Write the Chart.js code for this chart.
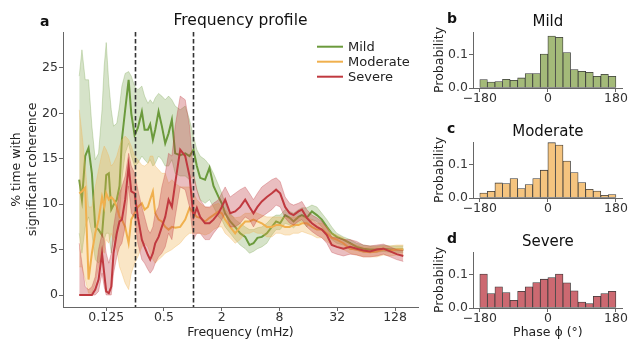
<!DOCTYPE html>
<html>
<head>
<meta charset="utf-8">
<script src="https://cdn.jsdelivr.net/npm/chart.js"></script>
<style>
  html, body { margin: 0; padding: 0; background: #fff; }
  #wrap { position: relative; width: 628px; height: 343px; overflow: hidden; }
  canvas { position: absolute; }
</style>
</head>
<body>
<div id="wrap">
  <canvas id="freqChart" width="428" height="343" style="left:0;top:0"></canvas>
  <canvas id="histMild" width="200" height="110" style="left:428px;top:0"></canvas>
  <canvas id="histModerate" width="200" height="110" style="left:428px;top:110px"></canvas>
  <canvas id="histSevere" width="200" height="123" style="left:428px;top:220px"></canvas>
</div>
<script>
// frequency profile (panel a)
const freqs = [0.0654, 0.0698, 0.0755, 0.0818, 0.0886, 0.096, 0.104, 0.113, 0.119, 0.125,
  0.133, 0.141, 0.149, 0.161, 0.172, 0.182, 0.197, 0.214, 0.228, 0.247,
  0.267, 0.294, 0.314, 0.34, 0.359, 0.383, 0.405, 0.439, 0.475, 0.515,
  0.558, 0.604, 0.654, 0.738, 0.832, 0.923, 1.015, 1.1, 1.19, 1.34,
  1.49, 1.64, 1.85, 2.0, 2.17, 2.45, 2.76, 3.11, 3.51, 3.89,
  4.28, 4.71, 5.23, 5.9, 6.65, 7.37, 8.12, 9.15, 10.2, 11.2,
  12.6, 13.7, 15.4, 17.4, 19.6, 22.1, 24.9, 28.0, 31.6, 37.1,
  43.5, 51.0, 59.9, 70.3, 82.5, 96.8, 114, 133, 156];

const mildMean = [12.7, 10.5, 15.3, 16.2, 13.4, 7.5, 7.2, 6.6, 9.7, 13.2,
  13.4, 9.4, 9.9, 10.5, 12.0, 17.1, 20.4, 23.7, 20.0, 17.6,
  18.4, 20.2, 18.2, 18.2, 18.8, 17.1, 18.2, 20.2, 18.6, 16.7,
  17.8, 19.3, 15.6, 15.4, 15.6, 15.3, 16.0, 14.2, 12.9, 12.7,
  14.0, 12.0, 10.8, 10.1, 9.0, 8.1, 7.5, 6.8, 6.4, 5.5,
  5.7, 6.3, 6.4, 6.8, 7.5, 8.1, 7.9, 8.8, 8.5, 8.1,
  8.6, 8.8, 8.5, 9.2, 8.8, 8.3, 7.5, 6.8, 6.4, 6.1,
  5.7, 5.3, 5.1, 5.0, 5.0, 5.1, 5.0, 5.0, 5.0];
const mildHi = [24.1, 27.0, 23.7, 23.7, 18.6, 14.9, 15.6, 20.4, 25.2, 27.8,
  23.3, 20.4, 18.6, 18.9, 20.8, 23.0, 24.4, 24.6, 24.1, 23.0,
  22.6, 23.0, 21.9, 21.1, 21.5, 21.1, 21.7, 22.2, 21.9, 21.5,
  21.9, 21.5, 20.8, 20.4, 20.8, 19.3, 17.5, 16.0, 15.3, 14.9,
  14.3, 13.4, 12.1, 11.2, 10.1, 9.0, 8.3, 7.9, 7.5, 7.2,
  7.2, 7.4, 7.5, 7.9, 8.5, 8.8, 8.8, 9.4, 9.2, 9.0,
  9.4, 9.6, 9.6, 9.9, 9.7, 9.0, 8.3, 7.5, 6.8, 6.4,
  6.1, 5.7, 5.5, 5.4, 5.4, 5.5, 5.4, 5.4, 5.4];
const mildLo = [6.8, 4.6, 7.5, 8.6, 6.8, 3.9, 3.5, 4.2, 6.1, 6.8,
  6.8, 4.6, 6.1, 6.8, 8.6, 12.7, 15.6, 16.7, 15.3, 14.2,
  14.5, 15.3, 14.9, 14.5, 14.9, 14.2, 14.5, 15.3, 14.9, 14.2,
  14.2, 14.9, 13.4, 13.1, 13.1, 12.7, 13.1, 11.6, 10.5, 10.1,
  10.5, 9.7, 8.6, 8.3, 7.5, 6.8, 6.1, 5.5, 5.1, 4.6,
  4.8, 5.1, 5.3, 5.7, 6.6, 7.2, 7.2, 7.9, 7.7, 7.4,
  7.9, 8.1, 7.5, 8.3, 8.1, 7.5, 6.8, 6.1, 5.7, 5.5,
  5.1, 4.9, 4.7, 4.7, 4.7, 4.8, 4.7, 4.7, 4.7];

const moderateMean = [11.2, 11.4, 11.8, 1.7, 4.6, 6.8, 8.3, 10.8, 9.7, 11.2,
  10.5, 10.8, 10.5, 9.7, 8.6, 8.3, 7.5, 5.7, 8.3, 9.0,
  9.7, 10.1, 9.4, 9.7, 10.5, 11.4, 9.0, 8.3, 8.1, 7.5,
  7.2, 7.5, 7.4, 7.5, 8.3, 9.6, 9.0, 8.6, 8.5, 8.1,
  8.5, 8.8, 9.2, 9.0, 8.3, 7.5, 6.8, 7.5, 8.1, 8.1,
  8.3, 8.1, 7.9, 7.5, 7.5, 7.7, 7.7, 7.5, 7.5, 7.7,
  7.7, 7.9, 7.9, 7.5, 7.2, 7.2, 6.8, 6.3, 6.1, 5.7,
  5.1, 5.0, 4.8, 4.7, 4.8, 5.0, 4.9, 5.0, 5.0];
const moderateHi = [20.4, 17.8, 14.2, 9.7, 9.7, 11.9, 13.8, 15.6, 16.4, 16.0,
  15.3, 14.2, 14.5, 15.3, 16.4, 17.1, 17.5, 17.1, 16.4, 15.3,
  14.9, 14.3, 14.2, 14.5, 15.3, 15.3, 14.2, 13.8, 13.4, 13.4,
  12.3, 12.7, 12.3, 11.9, 11.9, 11.9, 11.2, 10.5, 10.1, 9.7,
  9.6, 9.9, 10.1, 9.7, 9.4, 8.8, 8.5, 8.6, 9.0, 9.0,
  9.2, 9.0, 8.8, 8.6, 8.6, 8.6, 8.6, 8.5, 8.5, 8.6,
  8.6, 8.6, 8.6, 8.3, 7.9, 7.9, 7.5, 6.8, 6.6, 6.3,
  5.7, 5.5, 5.3, 5.3, 5.3, 5.4, 5.4, 5.5, 5.5];
const moderateLo = [3.1, 3.1, 1.7, 0.2, 0.2, 1.3, 3.1, 5.3, 4.6, 6.1,
  5.7, 6.8, 6.1, 5.0, 3.1, 2.4, 1.3, 0.6, 2.4, 3.5,
  4.2, 5.3, 5.7, 5.3, 4.6, 3.9, 3.5, 3.9, 4.2, 4.6,
  4.8, 5.0, 5.3, 5.7, 6.4, 6.8, 6.8, 6.8, 6.8, 6.6,
  6.8, 7.2, 7.5, 7.5, 6.8, 6.3, 5.7, 6.1, 6.8, 6.8,
  7.0, 6.8, 6.8, 6.4, 6.4, 6.8, 6.8, 6.6, 6.6, 6.8,
  6.8, 7.0, 6.8, 6.6, 6.3, 6.3, 5.9, 5.5, 5.3, 5.0,
  4.6, 4.4, 4.2, 4.2, 4.2, 4.4, 4.3, 4.4, 4.4];

const severeMean = [0, 0, 0, 0, 0, 0.6, 1.7, 4.6, 2.4, 0.4,
  0.2, 0.9, 4.6, 6.8, 8.1, 8.3, 10.5, 14.2, 11.4, 11.2,
  8.6, 6.1, 5.3, 4.4, 3.9, 4.6, 5.7, 6.4, 7.5, 8.6,
  10.5, 9.7, 12.3, 16.0, 15.3, 13.1, 8.6, 9.6, 8.6, 7.9,
  7.9, 8.3, 9.0, 9.7, 10.5, 9.0, 9.2, 9.7, 10.5, 9.7,
  9.0, 9.7, 10.3, 10.8, 11.2, 11.6, 11.2, 9.7, 9.0, 8.8,
  9.2, 9.4, 8.5, 7.9, 7.5, 7.2, 6.6, 5.5, 5.3, 5.1,
  5.3, 5.1, 4.9, 4.8, 5.0, 5.1, 4.8, 4.5, 4.3];
const severeHi = [5.7, 3.5, 0.9, 0.6, 0.9, 2.0, 5.0, 6.8, 6.1, 4.6,
  3.5, 4.6, 7.5, 9.7, 11.2, 11.9, 13.1, 15.6, 14.2, 13.4,
  11.6, 9.7, 8.6, 7.2, 6.8, 7.5, 9.0, 9.7, 11.9, 13.4,
  15.6, 15.3, 18.6, 21.9, 21.5, 18.6, 13.4, 11.6, 10.5, 9.7,
  9.7, 10.1, 10.5, 11.2, 11.9, 10.8, 11.2, 11.6, 11.9, 11.2,
  10.5, 11.2, 11.9, 12.3, 12.7, 12.9, 12.5, 10.8, 10.1, 9.9,
  10.1, 10.3, 9.4, 8.8, 8.5, 8.1, 7.4, 6.4, 6.3, 6.1,
  6.1, 5.9, 5.5, 5.4, 5.5, 5.6, 5.3, 5.0, 4.9];
const severeLo = [0, 0, 0, 0, 0, 0, 0.4, 2.4, 0.9, 0,
  0, 0, 2.4, 4.2, 5.3, 5.7, 7.5, 12.0, 9.0, 8.6,
  5.7, 3.9, 3.5, 2.8, 2.4, 2.8, 3.5, 4.2, 4.6, 5.3,
  6.8, 6.1, 8.6, 11.9, 11.6, 9.7, 6.1, 6.8, 6.8, 6.1,
  6.1, 6.8, 7.5, 8.3, 9.0, 7.5, 7.5, 7.9, 8.6, 8.3,
  7.5, 8.3, 8.6, 9.0, 9.4, 9.9, 9.7, 8.5, 7.9, 7.7,
  8.1, 8.3, 7.5, 7.0, 6.6, 6.3, 5.7, 4.7, 4.5, 4.3,
  4.5, 4.4, 4.2, 4.2, 4.3, 4.5, 4.2, 3.9, 3.7];

const xTicks = [0.125, 0.5, 2, 8, 32, 128];
const yTicks = [0, 5, 10, 15, 20, 25];
const dashedFreqs = [0.25, 1];

// phase histograms (panels b-d), 20 degree bins
const phaseBins = [-170, -150, -130, -110, -90, -70, -50, -30, -10, 10, 30, 50, 70, 90, 110, 130, 150, 170];
const mildPhase = [0.025, 0.018, 0.019, 0.026, 0.023, 0.030, 0.043, 0.043, 0.101, 0.155, 0.151, 0.106, 0.055, 0.050, 0.047, 0.035, 0.041, 0.035];
const moderatePhase = [0.015, 0.020, 0.045, 0.043, 0.058, 0.028, 0.040, 0.058, 0.083, 0.165, 0.158, 0.110, 0.076, 0.046, 0.026, 0.021, 0.008, 0.010];
const severePhase = [0.101, 0.043, 0.063, 0.046, 0.023, 0.050, 0.063, 0.076, 0.086, 0.091, 0.101, 0.075, 0.051, 0.018, 0.013, 0.035, 0.043, 0.050];
const phaseTicks = [-180, 0, 180];
const probTicks = [0, 0.1];

const seriesNames = ['Mild', 'Moderate', 'Severe'];
const lineColors = ['#6b9a3c', '#f0b04e', '#c0393f'];
const bandColors = ['rgba(107,154,60,0.28)', 'rgba(240,176,78,0.32)', 'rgba(192,57,63,0.33)'];
const bandEdges = ['rgba(107,154,60,0.35)', 'rgba(240,176,78,0.4)', 'rgba(192,57,63,0.4)'];
const histColors = ['#a4ba79', '#f5c47f', '#cc6971'];

Chart.defaults.font.family = "'DejaVu Sans', sans-serif";
Chart.defaults.color = '#333';

const FONT = "'DejaVu Sans', sans-serif";

// titles and panel letters
const decor = {
  id: 'decor',
  afterDraw(chart, args, o) {
    const ctx = chart.ctx, a = chart.chartArea;
    ctx.save();
    ctx.fillStyle = '#111';
    ctx.textBaseline = 'alphabetic';
    ctx.font = o.titleSize + 'px ' + FONT;
    ctx.textAlign = 'center';
    ctx.fillText(o.title, (a.left + a.right) / 2, o.titleY);
    ctx.font = 'bold 14px ' + FONT;
    ctx.textAlign = 'left';
    ctx.fillText(o.letter, o.letterX, o.letterY);
    ctx.restore();
  }
};

// vertical dashed markers
const refLines = {
  id: 'refLines',
  afterDatasetsDraw(chart) {
    const ctx = chart.ctx, a = chart.chartArea, xs = chart.scales.x;
    ctx.save();
    ctx.strokeStyle = '#333';
    ctx.lineWidth = 1.6;
    ctx.setLineDash([4.5, 2.5]);
    dashedFreqs.forEach(f => {
      const px = Math.round(xs.getPixelForValue(f)) + 0.5;
      ctx.beginPath();
      ctx.moveTo(px, a.top);
      ctx.lineTo(px, a.bottom);
      ctx.stroke();
    });
    ctx.restore();
  }
};

// legend inside the plot
const seriesKey = {
  id: 'seriesKey',
  afterDraw(chart, args, o) {
    const ctx = chart.ctx;
    const means = chart.data.datasets.filter(d => d.isMean);
    ctx.save();
    ctx.font = '13px ' + FONT;
    ctx.textBaseline = 'middle';
    ctx.textAlign = 'left';
    means.forEach((d, i) => {
      const y = o.y + i * o.rowGap;
      ctx.strokeStyle = d.borderColor;
      ctx.lineWidth = 2;
      ctx.beginPath();
      ctx.moveTo(o.x, y);
      ctx.lineTo(o.x + 26, y);
      ctx.stroke();
      ctx.fillStyle = '#222';
      ctx.fillText(d.label, o.x + 31, y + 0.5);
    });
    ctx.restore();
  }
};

function pts(vals) {
  return freqs.map((f, i) => ({ x: f, y: vals[i] }));
}

const groups = [
  [mildLo, mildMean, mildHi],
  [moderateLo, moderateMean, moderateHi],
  [severeLo, severeMean, severeHi]
];
const datasets = [];
groups.forEach((g, k) => {
  const base = 2 * (2 - k);
  datasets.push({ data: pts(g[2]), fill: '+1', backgroundColor: bandColors[k], borderColor: bandEdges[k],
    borderWidth: 0.8, pointRadius: 0, tension: 0, order: base + 1 });
  datasets.push({ data: pts(g[0]), fill: false, borderColor: bandEdges[k],
    borderWidth: 0.8, pointRadius: 0, tension: 0, order: base + 1 });
  datasets.push({ label: seriesNames[k], data: pts(g[1]), fill: false, borderColor: lineColors[k],
    borderWidth: 2, pointRadius: 0, tension: 0, order: base, isMean: true });
});

const axisGrid = { drawOnChartArea: false, tickLength: 4, color: '#666', lineWidth: 1 };
const axisBorder = { color: '#666', width: 1 };

new Chart(document.getElementById('freqChart'), {
  type: 'line',
  data: { datasets: datasets },
  options: {
    responsive: false,
    animation: false,
    layout: { padding: { left: 0, top: 32, right: 10, bottom: 0 } },
    scales: {
      x: {
        type: 'logarithmic',
        min: 0.0443,
        max: 222,
        afterBuildTicks: s => { s.ticks = xTicks.map(v => ({ value: v })); },
        afterFit: s => { s.height = 36; },
        ticks: { callback: v => String(v), autoSkip: false, maxRotation: 0, padding: 0,
          font: { size: 12.5, lineHeight: 1 } },
        grid: axisGrid,
        border: axisBorder,
        title: { display: true, text: 'Frequency (mHz)', color: '#222', font: { size: 12.5 },
          padding: { top: 0, bottom: 2.5 } }
      },
      y: {
        min: -1.32,
        max: 28.96,
        afterBuildTicks: s => { s.ticks = yTicks.map(v => ({ value: v })); },
        afterFit: s => { s.width = 63; },
        ticks: { padding: 1, font: { size: 12.5 } },
        grid: axisGrid,
        border: axisBorder,
        title: { display: true, text: ['% time with', 'significant coherence'], color: '#222',
          font: { size: 12.5, lineHeight: 1.22 }, padding: { top: 9.5, bottom: 0 } }
      }
    },
    plugins: {
      legend: { display: false },
      tooltip: { enabled: false },
      decor: { title: 'Frequency profile', titleSize: 15.5, titleY: 25, letter: 'a', letterX: 40, letterY: 26 },
      seriesKey: { x: 317, y: 46.7, rowGap: 15 }
    }
  },
  plugins: [refLines, seriesKey, decor]
});

function phaseHist(id, vals, color, title, letter, h, showXTitle) {
  new Chart(document.getElementById(id), {
    type: 'bar',
    data: {
      datasets: [{
        data: phaseBins.map((b, i) => ({ x: b, y: vals[i] })),
        backgroundColor: color,
        borderColor: '#3a3a3a',
        borderWidth: 0.8,
        borderSkipped: false,
        barPercentage: 1,
        categoryPercentage: 1
      }]
    },
    options: {
      responsive: false,
      animation: false,
      layout: { padding: { left: 0, top: 32, right: 3, bottom: 0 } },
      scales: {
        x: {
          type: 'linear',
          offset: false,
          min: -198,
          max: 198,
          afterBuildTicks: s => { s.ticks = phaseTicks.map(v => ({ value: v })); },
          afterFit: s => { s.height = h - 88; },
          ticks: { callback: v => (v < 0 ? '\u2212' + Math.abs(v) : String(v)), autoSkip: false,
            maxRotation: 0, padding: 0, font: { size: 12.5, lineHeight: 1 } },
          grid: Object.assign({ offset: false }, axisGrid),
          border: axisBorder,
          title: { display: showXTitle, text: 'Phase \u03D5 (\u00B0)', color: '#222', font: { size: 12.5 },
            padding: { top: 0, bottom: 2.5 } }
        },
        y: {
          min: 0,
          max: 0.167,
          afterBuildTicks: s => { s.ticks = probTicks.map(v => ({ value: v })); },
          afterFit: s => { s.width = 45; },
          ticks: { callback: v => v.toFixed(1), padding: 1, font: { size: 12.5 } },
          grid: axisGrid,
          border: axisBorder,
          title: { display: true, text: 'Probability', color: '#222', font: { size: 12.5 },
            padding: { top: 4.5, bottom: 0 } }
        }
      },
      plugins: {
        legend: { display: false },
        tooltip: { enabled: false },
        decor: { title: title, titleSize: 15, titleY: 26, letter: letter, letterX: 19, letterY: 23 }
      }
    },
    plugins: [decor]
  });
}

phaseHist('histMild', mildPhase, histColors[0], 'Mild', 'b', 110, false);
phaseHist('histModerate', moderatePhase, histColors[1], 'Moderate', 'c', 110, false);
phaseHist('histSevere', severePhase, histColors[2], 'Severe', 'd', 123, true);
</script>
</body>
</html>
